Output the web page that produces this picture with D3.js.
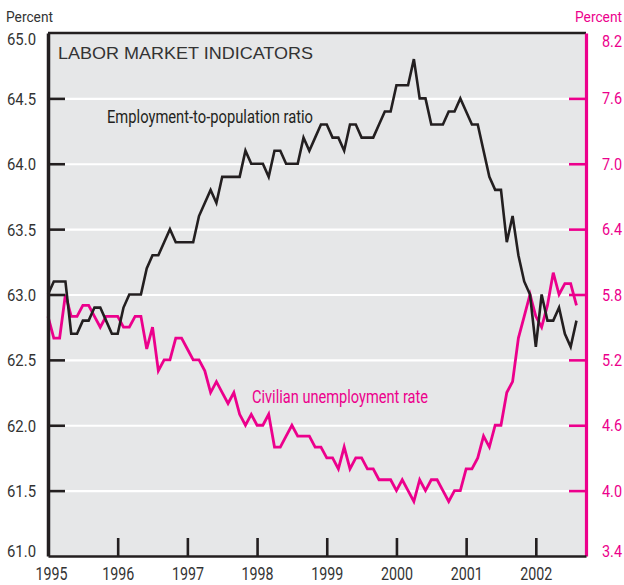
<!DOCTYPE html>
<html>
<head>
<meta charset="utf-8">
<script src="https://cdnjs.cloudflare.com/ajax/libs/d3/7.8.5/d3.min.js"></script>
<style>
    body { margin: 0; background: #fff; }
    svg { display: block; }
</style>
</head>
<body>
<svg id="chart" width="624" height="585"></svg>
<script>
// monthly, Jan 1995 .. Aug 2002
let years = [1995, 1996, 1997, 1998, 1999, 2000, 2001, 2002];
let epop = [
    63.0, 63.1, 63.1, 63.1, 62.7, 62.7, 62.8, 62.8, 62.9, 62.9, 62.8, 62.7,
    62.7, 62.9, 63.0, 63.0, 63.0, 63.2, 63.3, 63.3, 63.4, 63.5, 63.4, 63.4,
    63.4, 63.4, 63.6, 63.7, 63.8, 63.7, 63.9, 63.9, 63.9, 63.9, 64.1, 64.0,
    64.0, 64.0, 63.9, 64.1, 64.1, 64.0, 64.0, 64.0, 64.2, 64.1, 64.2, 64.3,
    64.3, 64.2, 64.2, 64.1, 64.3, 64.3, 64.2, 64.2, 64.2, 64.3, 64.4, 64.4,
    64.6, 64.6, 64.6, 64.8, 64.5, 64.5, 64.3, 64.3, 64.3, 64.4, 64.4, 64.5,
    64.4, 64.3, 64.3, 64.1, 63.9, 63.8, 63.8, 63.4, 63.6, 63.3, 63.1, 63.0,
    62.6, 63.0, 62.8, 62.8, 62.9, 62.7, 62.6, 62.8
];
let unemp = [
    5.6, 5.4, 5.4, 5.8, 5.6, 5.6, 5.7, 5.7, 5.6, 5.5, 5.6, 5.6,
    5.6, 5.5, 5.5, 5.6, 5.6, 5.3, 5.5, 5.1, 5.2, 5.2, 5.4, 5.4,
    5.3, 5.2, 5.2, 5.1, 4.9, 5.0, 4.9, 4.8, 4.9, 4.7, 4.6, 4.7,
    4.6, 4.6, 4.7, 4.4, 4.4, 4.5, 4.6, 4.5, 4.5, 4.5, 4.4, 4.4,
    4.3, 4.3, 4.2, 4.4, 4.2, 4.3, 4.3, 4.2, 4.2, 4.1, 4.1, 4.1,
    4.0, 4.1, 4.0, 3.9, 4.1, 4.0, 4.1, 4.1, 4.0, 3.9, 4.0, 4.0,
    4.2, 4.2, 4.3, 4.5, 4.4, 4.6, 4.6, 4.9, 5.0, 5.4, 5.6, 5.8,
    5.6, 5.5, 5.7, 6.0, 5.8, 5.9, 5.9, 5.7
];
let left_ticks = [61.0, 61.5, 62.0, 62.5, 63.0, 63.5, 64.0, 64.5, 65.0];
let right_ticks = [3.4, 4.0, 4.6, 5.2, 5.8, 6.4, 7.0, 7.6, 8.2];

const pink = '#ec008c';
const ink = '#231f20';
const grey_text = '#333333';
const narrow = 'Roboto, "Liberation Sans", sans-serif';

const x0 = 48, x1 = 586, y0 = 33, y1 = 556;

const x = d3.scaleLinear().domain([1995, 2002.72]).range([x0, x1]);
const yl = d3.scaleLinear().domain([61, 65]).range([y1, y0]);
const yr = d3.scaleLinear().domain([3.4, 8.2]).range([y1, y0]);

const svg = d3.select('#chart');

// squeeze a label to a given width (the original uses a condensed face)
function squeeze(sel, w) {
    sel.attr('textLength', w).attr('lengthAdjust', 'spacingAndGlyphs');
}

svg.append('rect')
    .attr('x', x0).attr('y', y0)
    .attr('width', x1 - x0).attr('height', y1 - y0)
    .attr('fill', '#e6e7e8');

// white grid lines
svg.append('g')
    .attr('transform', 'translate(' + x0 + ',0)')
    .call(d3.axisLeft(yl).tickValues(left_ticks.slice(1, -1)).tickSize(-(x1 - x0)).tickFormat(''))
    .call(g => g.select('.domain').remove())
    .selectAll('line').attr('stroke', '#fff').attr('stroke-width', 2.2);

// top border
svg.append('line')
    .attr('x1', x0).attr('x2', x1).attr('y1', y0).attr('y2', y0)
    .attr('stroke', ink).attr('stroke-width', 2.6);

const line_at = (y) => d3.line()
    .x((d, i) => x(1995 + i / 12))
    .y(d => y(d));

svg.append('path')
    .datum(unemp)
    .attr('d', line_at(yr))
    .attr('fill', 'none')
    .attr('stroke', pink)
    .attr('stroke-width', 2.8)
    .attr('stroke-linejoin', 'miter');

svg.append('path')
    .datum(epop)
    .attr('d', line_at(yl))
    .attr('fill', 'none')
    .attr('stroke', ink)
    .attr('stroke-width', 2.6)
    .attr('stroke-linejoin', 'miter');

// left axis
const ax_l = svg.append('g')
    .attr('transform', 'translate(' + x0 + ',0)')
    .call(d3.axisLeft(yl).tickValues(left_ticks).tickSize(-17).tickSizeOuter(0).tickPadding(12).tickFormat(d3.format('.1f')));
ax_l.select('.domain').attr('stroke', ink).attr('stroke-width', 3.5);
ax_l.selectAll('.tick line').attr('stroke', ink).attr('stroke-width', 2.6);
ax_l.selectAll('.tick line').filter(d => d === 65 || d === 61).remove();
ax_l.selectAll('text')
    .attr('fill', grey_text)
    .style('font-family', narrow)
    .style('font-size', '17px')
    .attr('dy', d => d === 65 ? '0.7em' : (d === 61 ? '0' : '0.35em'))
    .call(squeeze, 29);

// right axis
const ax_r = svg.append('g')
    .attr('transform', 'translate(' + x1 + ',0)')
    .call(d3.axisRight(yr).tickValues(right_ticks).tickSize(-17).tickSizeOuter(0).tickPadding(16).tickFormat(d3.format('.1f')));
ax_r.select('.domain').attr('stroke', pink).attr('stroke-width', 3.2);
ax_r.selectAll('.tick line').attr('stroke', pink).attr('stroke-width', 2.6);
ax_r.selectAll('.tick line').filter(d => d === 8.2 || d === 3.4).remove();
ax_r.selectAll('text')
    .attr('fill', pink)
    .style('font-family', narrow)
    .style('font-size', '16px')
    .attr('dy', d => d === 8.2 ? '0.85em' : (d === 3.4 ? '0' : '0.35em'))
    .call(squeeze, 20);

// bottom axis
const ax_b = svg.append('g')
    .attr('transform', 'translate(0,' + y1 + ')')
    .call(d3.axisBottom(x).tickValues(years).tickSize(-18).tickSizeOuter(0).tickPadding(11).tickFormat(d3.format('d')));
ax_b.select('.domain').attr('stroke', ink).attr('stroke-width', 2.6);
ax_b.selectAll('.tick line').attr('stroke', ink).attr('stroke-width', 2.6);
ax_b.selectAll('.tick line').filter(d => d === 1995).remove();
ax_b.selectAll('text')
    .attr('fill', grey_text)
    .style('font-family', narrow)
    .style('font-size', '18px')
    .attr('dx', d => d === 1995 ? 3 : 0)
    .call(squeeze, 32);

// axis units
svg.append('text')
    .attr('x', 6).attr('y', 22)
    .style('font-family', narrow).style('font-size', '14px')
    .attr('fill', grey_text)
    .text('Percent')
    .call(squeeze, 47);
svg.append('text')
    .attr('x', 575).attr('y', 22)
    .style('font-family', narrow).style('font-size', '14px')
    .attr('fill', pink)
    .text('Percent')
    .call(squeeze, 47);

svg.append('text')
    .attr('x', 58).attr('y', 59)
    .style('font-family', '"Liberation Sans", Arial, sans-serif').style('font-size', '17px')
    .attr('fill', grey_text)
    .text('LABOR MARKET INDICATORS')
    .call(squeeze, 255);

svg.append('text')
    .attr('x', 107).attr('y', 123)
    .style('font-family', narrow).style('font-size', '18px')
    .attr('fill', ink)
    .text('Employment-to-population ratio')
    .call(squeeze, 206);

svg.append('text')
    .attr('x', 252).attr('y', 403)
    .style('font-family', narrow).style('font-size', '18px')
    .attr('fill', pink)
    .text('Civilian unemployment rate')
    .call(squeeze, 176);
</script>
</body>
</html>
